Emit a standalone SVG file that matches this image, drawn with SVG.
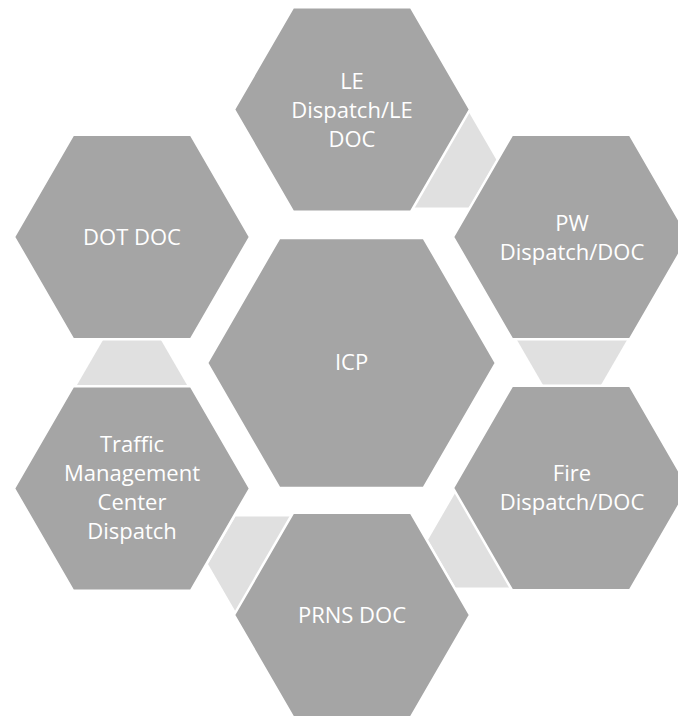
<svg xmlns="http://www.w3.org/2000/svg" width="678" height="717" viewBox="0 0 678 717">
  <style>
    .hex { fill: #A5A5A5; stroke: #FFFFFF; stroke-width: 2.5; stroke-linejoin: miter; }
    .conn { fill: #E0E0E0; stroke: none; }
    .lbl { font-family: "Open Sans", "Liberation Sans", sans-serif; font-size: 22px; fill: #FFFFFF; text-anchor: middle; }
  </style>
  <rect x="0" y="0" width="678" height="717" fill="#FFFFFF"/>
  <g id="connectors">
    <polygon class="conn" points="386.5,160 414,112.4 469,112.4 496.5,160 469,207.6 414,207.6"/>
    <polygon class="conn" points="517,340 544.5,292.4 599.5,292.4 627,340 599.5,387.6 544.5,387.6"/>
    <polygon class="conn" points="428,540 455.5,492.4 510.5,492.4 538,540 510.5,587.6 455.5,587.6"/>
    <polygon class="conn" points="208,564 235.5,516.4 290.5,516.4 318,564 290.5,611.6 235.5,611.6"/>
    <polygon class="conn" points="77,385 104.5,337.4 159.5,337.4 187,385 159.5,432.6 104.5,432.6"/>
  </g>
  <g id="node-icp">
    <polygon class="hex" points="207,363 279.25,238 423.75,238 496,363 423.75,488 279.25,488"/>
    <text class="lbl" x="351.5" y="370">ICP</text>
  </g>
  <g id="node-le">
    <polygon class="hex" points="234,109.5 293,7.3 411,7.3 470,109.5 411,211.7 293,211.7"/>
    <text class="lbl" x="352" y="88.5">LE</text>
    <text class="lbl" x="352" y="117.5">Dispatch/LE</text>
    <text class="lbl" x="352" y="146.5">DOC</text>
  </g>
  <g id="node-pw">
    <polygon class="hex" points="453,237 512,134.8 630,134.8 689,237 630,339.2 512,339.2"/>
    <text class="lbl" x="572" y="231">PW</text>
    <text class="lbl" x="572" y="260">Dispatch/DOC</text>
  </g>
  <g id="node-fire">
    <polygon class="hex" points="453,488 512,385.8 630,385.8 689,488 630,590.2 512,590.2"/>
    <text class="lbl" x="572" y="481">Fire</text>
    <text class="lbl" x="572" y="510">Dispatch/DOC</text>
  </g>
  <g id="node-prns">
    <polygon class="hex" points="234,615 293,512.8 411,512.8 470,615 411,717.2 293,717.2"/>
    <text class="lbl" x="352" y="623">PRNS DOC</text>
  </g>
  <g id="node-traffic">
    <polygon class="hex" points="14,488.5 73,386.3 191,386.3 250,488.5 191,590.7 73,590.7"/>
    <text class="lbl" x="132" y="452">Traffic</text>
    <text class="lbl" x="132" y="481">Management</text>
    <text class="lbl" x="132" y="510">Center</text>
    <text class="lbl" x="132" y="539">Dispatch</text>
  </g>
  <g id="node-dot">
    <polygon class="hex" points="14,237 73,134.8 191,134.8 250,237 191,339.2 73,339.2"/>
    <text class="lbl" x="132" y="245">DOT DOC</text>
  </g>
</svg>
